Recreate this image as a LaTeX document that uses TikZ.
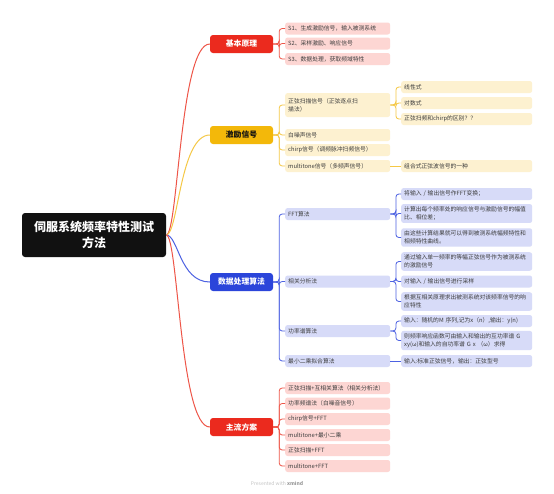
\documentclass[tikz,border=0pt]{standalone}
\usepackage{fontspec}
\setmainfont{Noto Sans CJK SC}
\usepackage{tikz}
\definecolor{MapRed}{HTML}{EB2A1E}
\definecolor{MapRedLight}{HTML}{FDD6D3}
\definecolor{MapRedLine}{HTML}{EE5548}
\definecolor{MapYellow}{HTML}{F3B80A}
\definecolor{MapYellowLight}{HTML}{FDF1D0}
\definecolor{MapYellowLine}{HTML}{F5C846}
\definecolor{MapBlue}{HTML}{2B45DA}
\definecolor{MapBlueLight}{HTML}{D7DBF8}
\definecolor{MapBlueLine}{HTML}{4D62E2}
\definecolor{MapBlack}{HTML}{111111}
\definecolor{MapText}{HTML}{3C3C3C}
\definecolor{MapGray}{HTML}{C4C4C4}
\definecolor{MapGrayDark}{HTML}{9A9A9A}

\begin{document}
\begin{tikzpicture}[x=1pt, y=-1pt,
  rootbox/.style={fill=MapBlack, rounded corners=3pt, minimum width=144pt, minimum height=44pt, inner sep=0pt, align=center, text=white, font=\fontsize{12}{15.5}\selectfont\bfseries},
  mainbox/.style={rounded corners=3pt, minimum width=63pt, minimum height=18pt, inner sep=0pt, font=\fontsize{7.8}{9}\selectfont\bfseries},
  leaf/.style={rounded corners=2.5pt, anchor=west, inner xsep=3pt, inner ysep=2.4pt, minimum height=12pt, align=left, text=MapText, font=\fontsize{5.8}{8.3}\selectfont},
  sub/.style={leaf, text width=99pt},
  subsub/.style={leaf, text width=125pt},
  bigline/.style={line width=1pt},
  twig/.style={line width=0.8pt, rounded corners=3pt}]

\fill[white] (0,0) rectangle (554,493);
\useasboundingbox (0,0) rectangle (554,493);

\node[rootbox] (root) at (94,235) {伺服系统频率特性测试\\方法};

\node[mainbox, fill=MapRed, text=white] (yuanli) at (241.5,44) {基本原理};
\node[mainbox, fill=MapYellow, text=MapBlack] (jili) at (241.5,135) {激励信号};
\node[mainbox, fill=MapBlue, text=white] (suanfa) at (241.5,282) {数据处理算法};
\node[mainbox, fill=MapRed, text=white] (fangan) at (241.5,427) {主流方案};

\draw[bigline, MapRedLine] (root.east) .. controls +(12,0) and +(-30,0) .. (yuanli.west);
\draw[bigline, MapYellowLine] (root.east) .. controls +(12,0) and +(-30,0) .. (jili.west);
\draw[bigline, MapBlueLine] (root.east) .. controls +(12,0) and +(-30,0) .. (suanfa.west);
\draw[bigline, MapRedLine] (root.east) .. controls +(12,0) and +(-30,0) .. (fangan.west);

\node[sub, fill=MapRedLight] (s1) at (285,28.5) {S1、生成激励信号，输入被测系统};
\node[sub, fill=MapRedLight] (s2) at (285,43.5) {S2、采样激励、响应信号};
\node[sub, fill=MapRedLight] (s3) at (285,59) {S3、数据处理，获取频域特性};
\foreach \c in {s1,s2,s3}
  \draw[twig, MapRedLine] (yuanli.east) -- ++(6,0) |- (\c.west);

\node[sub, fill=MapYellowLight, minimum height=24pt] (zhengxian) at (285,105) {正弦扫描信号（正弦逐点扫\\描法）};
\node[sub, fill=MapYellowLight] (baizao) at (285,135) {白噪声信号};
\node[sub, fill=MapYellowLight] (chirp) at (285,150) {chirp信号（调频脉冲扫频信号）};
\node[sub, fill=MapYellowLight] (multi) at (285,166) {multitone信号（多频声信号）};
\foreach \c in {zhengxian,baizao,chirp,multi}
  \draw[twig, MapYellowLine] (jili.east) -- ++(6,0) |- (\c.west);

\node[subsub, fill=MapYellowLight] (xianxing) at (401,87) {线性式};
\node[subsub, fill=MapYellowLight] (duishu) at (401,103) {对数式};
\node[subsub, fill=MapYellowLight] (qubie) at (401,119) {正弦扫频和chirp的区别？？};
\node[subsub, fill=MapYellowLight] (zuhe) at (401,166) {组合式正弦波信号的一种};
\foreach \c in {xianxing,duishu,qubie}
  \draw[twig, MapYellowLine] (zhengxian.east) -- ++(5.5,0) |- (\c.west);
\draw[twig, MapYellowLine] (multi.east) -- (zuhe.west);

\node[sub, fill=MapBlueLight] (fft) at (285,214) {FFT算法};
\node[sub, fill=MapBlueLight] (xiangguan) at (285,281.5) {相关分析法};
\node[sub, fill=MapBlueLight] (gonglv) at (285,331) {功率谱算法};
\node[sub, fill=MapBlueLight] (zuixiao) at (285,361) {最小二乘拟合算法};
\foreach \c in {fft,xiangguan,gonglv,zuixiao}
  \draw[twig, MapBlueLine] (suanfa.east) -- ++(6,0) |- (\c.west);

\node[subsub, fill=MapBlueLight] (f1) at (401,194) {将输入 / 输出信号作FFT变换；};
\node[subsub, fill=MapBlueLight] (f2) at (401,213.5) {计算出每个频率处的响应信号与激励信号的幅值\\比、相位差；};
\node[subsub, fill=MapBlueLight] (f3) at (401,237.5) {由这些计算结果就可以得到被测系统幅频特性和\\相频特性曲线。};
\foreach \c in {f1,f2,f3}
  \draw[twig, MapBlueLine] (fft.east) -- ++(5.5,0) |- (\c.west);

\node[subsub, fill=MapBlueLight] (x1) at (401,261.5) {通过输入单一频率的等幅正弦信号作为被测系统\\的激励信号};
\node[subsub, fill=MapBlueLight] (x2) at (401,281.5) {对输入 / 输出信号进行采样};
\node[subsub, fill=MapBlueLight] (x3) at (401,301.5) {根据互相关原理求出被测系统对该频率信号的响\\应特性};
\foreach \c in {x1,x2,x3}
  \draw[twig, MapBlueLine] (xiangguan.east) -- ++(5.5,0) |- (\c.west);

\node[subsub, fill=MapBlueLight] (g1) at (401,321) {输入：随机的M 序列,记为x（n）,输出：y(n)};
\node[subsub, fill=MapBlueLight] (g2) at (401,340.5) {则频率响应函数可由输入和输出的互功率谱 G\\xy(ω)和输入的自功率谱 G x （ω）求得};
\foreach \c in {g1,g2}
  \draw[twig, MapBlueLine] (gonglv.east) -- ++(5.5,0) |- (\c.west);

\node[subsub, fill=MapBlueLight] (z1) at (401,361) {输入:标准正弦信号，输出：正弦型号};
\draw[twig, MapBlueLine] (zuixiao.east) -- (z1.west);

\node[sub, fill=MapRedLight] (p1) at (285,388) {正弦扫描+互相关算法（相关分析法）};
\node[sub, fill=MapRedLight] (p2) at (285,403.5) {功率频谱法（白噪音信号）};
\node[sub, fill=MapRedLight] (p3) at (285,419) {chirp信号+FFT};
\node[sub, fill=MapRedLight] (p4) at (285,435) {multitone+最小二乘};
\node[sub, fill=MapRedLight] (p5) at (285,450) {正弦扫描+FFT};
\node[sub, fill=MapRedLight] (p6) at (285,466) {multitone+FFT};
\foreach \c in {p1,p2,p3,p4,p5,p6}
  \draw[twig, MapRedLine] (fangan.east) -- ++(6,0) |- (\c.west);

\node[font=\fontsize{5}{6}\selectfont, text=MapGray] (credit) at (277,483) {Presented with \textbf{\textcolor{MapGrayDark}{xmind}}};
\end{tikzpicture}
\end{document}
